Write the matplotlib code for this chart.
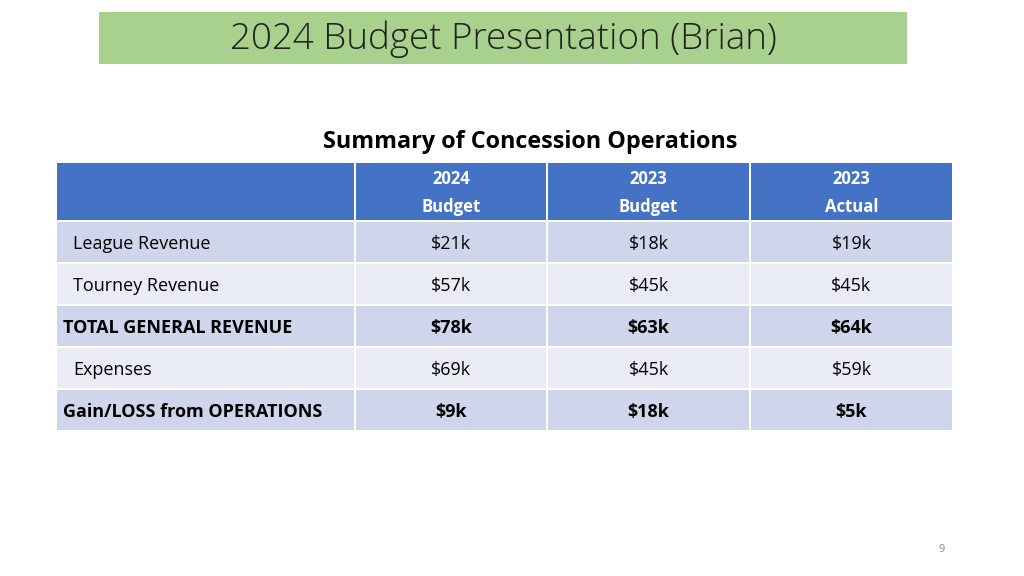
import matplotlib.pyplot as plt
from matplotlib.patches import Rectangle

# table content
col_heads = ["2024\nBudget", "2023\nBudget", "2023\nActual"]
row_labels = ["League Revenue", "Tourney Revenue", "TOTAL GENERAL REVENUE",
              "Expenses", "Gain/LOSS from OPERATIONS"]
budget_2024 = [21, 57, 78, 69, 9]
budget_2023 = [18, 45, 63, 45, 18]
actual_2023 = [19, 45, 64, 59, 5]
bold_rows = [False, False, True, False, True]

title = "2024 Budget Presentation (Brian)"
subtitle = "Summary of Concession Operations"

HEAD_BLUE = "#4472C4"
ROW_DARK = "#CFD5EA"
ROW_LIGHT = "#E9EBF5"
GREEN = "#A9D18E"

plt.rcParams["font.family"] = ["Open Sans", "DejaVu Sans"]

fig = plt.figure(figsize=(10.24, 5.76), dpi=100)
ax = fig.add_axes([0, 0, 1, 1])
ax.set_xlim(0, 1024)
ax.set_ylim(576, 0)
ax.axis("off")

# title band
ax.add_patch(Rectangle((99, 12), 808, 52, facecolor=GREEN, edgecolor="none"))
ax.text(503, 39, title, ha="center", va="center", fontsize=26.5, color="#222222",
        fontweight="light")

ax.text(530, 142, subtitle, ha="center", va="center", fontsize=16.8,
        fontweight="bold", color="black")

col_x = [56, 355, 547, 750, 953]
head_top, head_bot = 163, 221
row_h = 42
gap = 1.0

# header
for i in range(4):
    x0, x1 = col_x[i], col_x[i + 1]
    ax.add_patch(Rectangle((x0 + gap, head_top), x1 - x0 - 2 * gap, head_bot - head_top - gap,
                           facecolor=HEAD_BLUE, edgecolor="none"))
for i, h in enumerate(col_heads):
    cx = (col_x[i + 1] + col_x[i + 2]) / 2
    ax.text(cx, 193, h, ha="center", va="center",
            fontsize=12, fontweight="bold", color="white", linespacing=1.75)

cols = [budget_2024, budget_2023, actual_2023]
for r, lab in enumerate(row_labels):
    y0 = head_bot + r * row_h
    fc = ROW_DARK if r % 2 == 0 else ROW_LIGHT
    for i in range(4):
        x0, x1 = col_x[i], col_x[i + 1]
        ax.add_patch(Rectangle((x0 + gap, y0 + gap), x1 - x0 - 2 * gap, row_h - 2 * gap,
                               facecolor=fc, edgecolor="none"))
    fw = "bold" if bold_rows[r] else "normal"
    lx = 63 if bold_rows[r] else 73
    ty = y0 + row_h / 2 + 2
    ax.text(lx, ty, lab, ha="left", va="center", fontsize=13,
            fontweight=fw, color="black")
    for i, vals in enumerate(cols):
        cx = (col_x[i + 1] + col_x[i + 2]) / 2
        ax.text(cx, ty, f"${vals[r]}k", ha="center", va="center",
                fontsize=13, fontweight=fw, color="black")

ax.text(942, 549, "9", ha="center", va="center", fontsize=8, color="#888888")

fig.savefig("out.png", dpi=100)
